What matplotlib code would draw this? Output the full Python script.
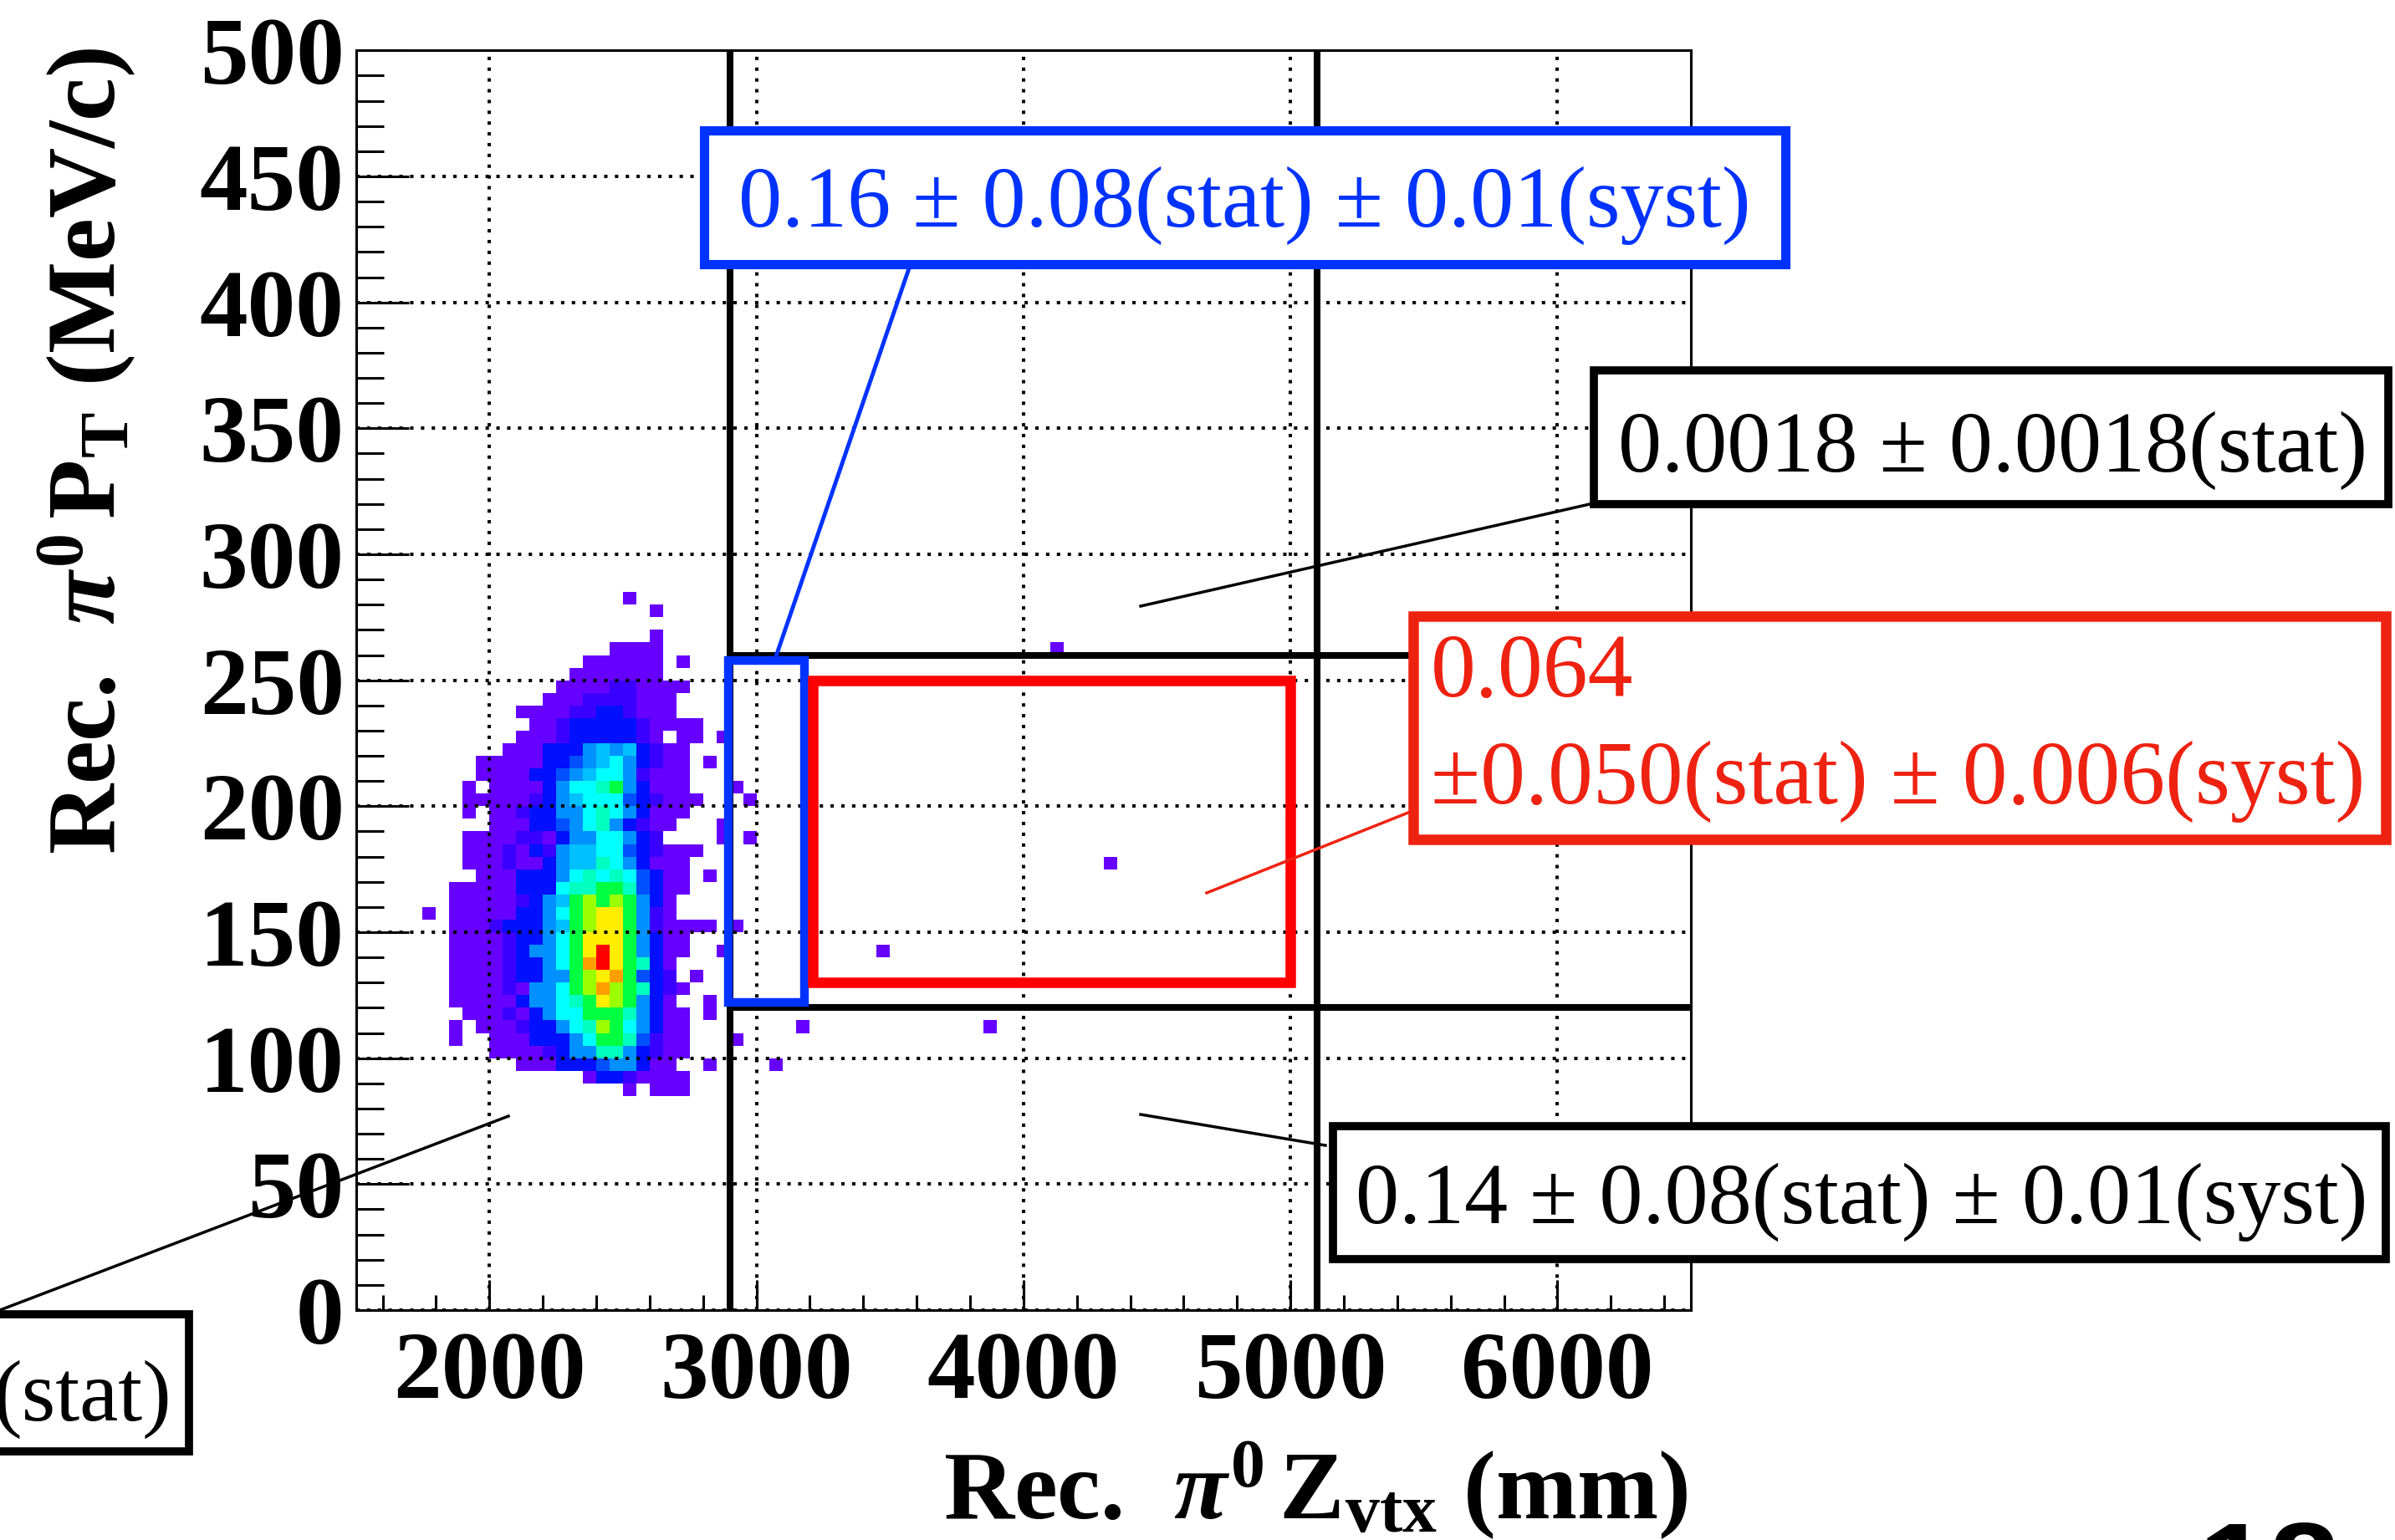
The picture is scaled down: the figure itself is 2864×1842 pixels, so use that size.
import numpy as np
import matplotlib
matplotlib.use("Agg")
import matplotlib.pyplot as plt
from matplotlib.colors import ListedColormap, BoundaryNorm
from matplotlib.patches import Rectangle
from matplotlib.ticker import FixedLocator, MultipleLocator

# ------------------------------------------------------------------ data
z_range = (1500, 6500)      # mm
pt_range = (0, 500)         # MeV/c
z_bin = 50
pt_bin = 5
z_first = 1700              # lower z edge of the first character column below

# PT lower edges of the rows (top to bottom)
pt_rows = [285, 280, 275, 270, 265, 260, 255, 250, 245, 240, 235, 230, 225,
           220, 215, 210, 205, 200, 195, 190, 185, 180, 175, 170, 165, 160,
           155, 150, 145, 140, 135, 130, 125, 120, 115, 110, 105, 100, 95, 90, 85]

# colour level per 50 mm bin from z = 1700 mm ('.' = empty, 1..d = palette level)
hist_rows = [
    "..........................",
    "................1.........",
    "..................1.......",
    "..........................",
    "..................1.......",
    "...............1111.......",
    ".............111111.1.....",
    "............1111111.......",
    "...........1111221111.....",
    "..........1112222111......",
    "........111122332111......",
    ".........1123333321111....",
    "........11123333321.11.1..",
    ".......11133356563211.....",
    ".....1111133456753211.1...",
    ".....1111334567752111.....",
    "....1.111135778953111...1.",
    "....111112356777432111...1",
    "....1.112335578753111.....",
    "......11133457853211...1..",
    "....111122135577532....1.1",
    "....111213256677432111....",
    "....11121135668753111.....",
    ".....1113335787874311.1...",
    "...111113337889984311.....",
    "...1111123569a9a9531......",
    ".1.1111133579abb9521......",
    "...1112333569abb9521111.1.",
    "...1111233579bbb95311.....",
    "...1111235579bdb95311..1..",
    "...1111233579cdb9831......",
    "...1111233559abc9432.1....",
    "...1111215579aca98321.....",
    "...11111355789ba9531..1...",
    "....11121357799985311.1...",
    "...1.111233578a975311.....",
    "...1..111333579984211...1.",
    "......111123558853211.....",
    "........111333455311..1...",
    ".............13321111.....",
    "................1.111.....",
]

# isolated entries further downstream
extra_z = [3050, 3150, 3450, 3850, 4100, 4300]
extra_pt = [95, 110, 140, 110, 260, 175]
extra_level = [1, 1, 1, 1, 1, 1]

palette = ['#6600ff', '#3a00ff', '#0010ff', '#0050ff', '#0090ff', '#00c0ff',
           '#00ffff', '#00ffc0', '#00ff40', '#9cff00', '#ffee00', '#ffa000',
           '#ff0000']

x_ticks = [2000, 3000, 4000, 5000, 6000]
y_ticks = [0, 50, 100, 150, 200, 250, 300, 350, 400, 450, 500]

cut_z = [2900, 5100]
cut_pt = [120, 260]
blue_region = (2895, 3180, 122, 258)   # z0, z1, pt0, pt1
red_region = (3210, 5000, 130, 250)

txt_blue = "0.16 ± 0.08(stat) ± 0.01(syst)"
txt_top = "0.0018 ± 0.0018(stat)"
txt_red1 = "0.064"
txt_red2 = "±0.050(stat) ± 0.006(syst)"
txt_bot = "0.14 ± 0.08(stat) ± 0.01(syst)"
txt_left = "(stat)"
page_no = "18"

BLUE = '#0033ff'
RED = '#ee2211'

# ------------------------------------------------------------------ style
plt.rcParams['font.family'] = 'Liberation Serif'
plt.rcParams['mathtext.fontset'] = 'custom'
plt.rcParams['mathtext.rm'] = 'Liberation Serif:bold'
plt.rcParams['mathtext.it'] = 'Liberation Serif:italic:bold'
plt.rcParams['mathtext.bf'] = 'Liberation Serif:bold'

W, H, DPI = 2864, 1842, 100
fig = plt.figure(figsize=(W / DPI, H / DPI), dpi=DPI, facecolor='white')

L, R, T, B = 425.6, 2022.0, 60.3, 1567.0
ax = fig.add_axes([L / W, 1 - B / H, (R - L) / W, (B - T) / H])
ax.set_xlim(*z_range)
ax.set_ylim(*pt_range)

# ------------------------------------------------------------------ histogram
nz = (z_range[1] - z_range[0]) // z_bin
npt = (pt_range[1] - pt_range[0]) // pt_bin
counts = np.zeros((npt, nz))
for pt, row in zip(pt_rows, hist_rows):
    j = (pt - pt_range[0]) // pt_bin
    for c, ch in enumerate(row):
        if ch != '.':
            i = (z_first + c * z_bin - z_range[0]) // z_bin
            counts[j, i] = int(ch, 16)
for z, pt, lv in zip(extra_z, extra_pt, extra_level):
    counts[(pt - pt_range[0]) // pt_bin, (z - z_range[0]) // z_bin] = lv

z_edges = np.arange(z_range[0], z_range[1] + z_bin, z_bin)
pt_edges = np.arange(pt_range[0], pt_range[1] + pt_bin, pt_bin)
cmap = ListedColormap(palette)
norm = BoundaryNorm(np.arange(0.5, len(palette) + 1.5, 1), cmap.N)
ax.pcolormesh(z_edges, pt_edges, np.ma.masked_equal(counts, 0), cmap=cmap,
              norm=norm, antialiased=False, linewidth=0, zorder=1)

# ------------------------------------------------------------------ axes style
ax.xaxis.set_major_locator(FixedLocator(x_ticks))
ax.xaxis.set_minor_locator(MultipleLocator(200))
ax.yaxis.set_major_locator(FixedLocator(y_ticks))
ax.yaxis.set_minor_locator(MultipleLocator(10))
ax.tick_params(which='both', direction='in', top=False, right=False,
               color='black', width=2.2)
ax.tick_params(axis='x', which='major', length=26, pad=18, labelsize=83)
ax.tick_params(axis='x', which='minor', length=13)
ax.tick_params(axis='y', which='major', length=45, pad=10, labelsize=83)
ax.tick_params(axis='y', which='minor', length=24)
for lab in ax.get_xticklabels() + ax.get_yticklabels():
    lab.set_fontweight('bold')
for sp in ax.spines.values():
    sp.set_linewidth(2.2)
ax.grid(True, which='major', color='black', linestyle=(0, (1, 2.2)),
        linewidth=2.9)
ax.set_axisbelow(False)

# region lines / boxes
for zc in cut_z:
    ax.axvline(zc, color='black', lw=5.8, zorder=4)
ax.hlines(cut_pt, cut_z[0], z_range[1], color='black', lw=5.8, zorder=4)
ax.add_patch(Rectangle((blue_region[0], blue_region[2]),
                       blue_region[1] - blue_region[0],
                       blue_region[3] - blue_region[2],
                       fill=False, ec=BLUE, lw=7.5, zorder=5))
ax.add_patch(Rectangle((red_region[0], red_region[2]),
                       red_region[1] - red_region[0],
                       red_region[3] - red_region[2],
                       fill=False, ec='#ff0000', lw=9, zorder=5))

# ------------------------------------------------------------------ overlay (pixel coords)
ov = fig.add_axes([0, 0, 1, 1])
ov.set_xlim(0, W)
ov.set_ylim(H, 0)
ov.axis('off')


def box(x0, y0, x1, y1, ec, lw):
    ov.add_patch(Rectangle((x0, y0), x1 - x0, y1 - y0, fc='white', ec=ec,
                           lw=lw, zorder=3))


# connector lines
ov.plot([1087, 928], [321, 785], color=BLUE, lw=3.5, zorder=2)
ov.plot([1901, 1364], [603, 725], color='black', lw=2.5, zorder=2)
ov.plot([1684, 1443], [972, 1068], color=RED, lw=2.5, zorder=2)
ov.plot([1585, 1364], [1370, 1333], color='black', lw=2.5, zorder=2)
ov.plot([0, 608], [1567, 1335], color='black', lw=2.5, zorder=2)

box(842, 156, 2135, 316, BLUE, 8)
ov.text(1488, 271, txt_blue, ha='center', va='baseline', fontsize=75,
        color=BLUE, fontweight='normal', zorder=4)

box(1906, 443, 2856, 603, 'black', 7)
ov.text(2383, 564, txt_top, ha='center', va='baseline', fontsize=75,
        color='black', fontweight='normal', zorder=4)

box(1690, 737, 2853, 1004, RED, 9)
ov.text(1711, 833, txt_red1, ha='left', va='baseline', fontsize=77.5,
        color=RED, fontweight='normal', zorder=4)
ov.text(1711, 961, txt_red2, ha='left', va='baseline', fontsize=77.5,
        color=RED, fontweight='normal', zorder=4)

box(1594, 1347, 2853, 1506, 'black', 7)
ov.text(2226, 1463, txt_bot, ha='center', va='baseline', fontsize=75,
        color='black', fontweight='normal', zorder=4)

box(-40, 1572, 226, 1736, 'black', 7)
ov.text(205, 1699, txt_left, ha='right', va='baseline', fontsize=75,
        color='black', fontweight='normal', zorder=4)

# axis titles
ov.text(2018, 1817, r"Rec.  $\pi^{0}\,\mathrm{Z}_{\mathrm{vtx}}$ (mm)",
        ha='right', va='baseline', fontsize=84, fontweight='bold', zorder=4)
ov.text(104, 57, r"Rec.  $\pi^{0}\,\mathrm{P}_{\mathrm{T}}$ (MeV/c)",
        rotation=90, ha='center', va='top', fontsize=84, fontweight='bold',
        zorder=4)

# slide page number (cut by the lower edge)
ov.text(2628, 1928, page_no, ha='left', va='baseline', fontsize=110,
        family='Liberation Sans', fontweight='bold', zorder=4)

fig.savefig("out.png", dpi=DPI, facecolor='white')
